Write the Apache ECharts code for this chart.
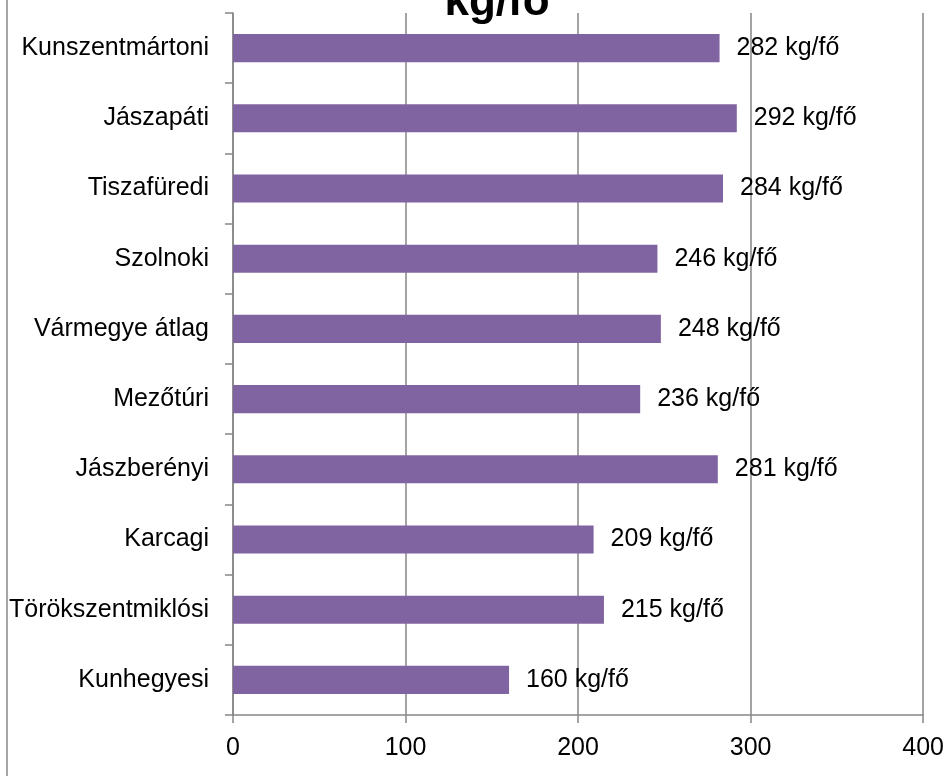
<!DOCTYPE html>
<html>
<head>
<meta charset="utf-8">
<script src="https://cdn.jsdelivr.net/npm/echarts@6/dist/echarts.min.js"></script>
<style>html,body{margin:0;padding:0;background:#fff;}#c{width:947px;height:776px;}</style>
</head>
<body>
<div id="c"></div>
<script>
const categories = ["Kunszentmártoni", "Jászapáti", "Tiszafüredi", "Szolnoki", "Vármegye átlag", "Mezőtúri", "Jászberényi", "Karcagi", "Törökszentmiklósi", "Kunhegyesi"];
const values = [282, 292, 284, 246, 248, 236, 281, 209, 215, 160];
const valueTicks = [0, 100, 200, 300, 400];
const titleText = "kg/fő";
const unit = " kg/fő";

const FONT = "'Liberation Sans', Arial, sans-serif";
const chart = echarts.init(document.getElementById('c'), null, {renderer: 'canvas'});
chart.setOption({
  animation: false,
  backgroundColor: '#fff',
  graphic: [
    {type: 'line', shape: {x1: 7, y1: 0, x2: 7, y2: 776}, style: {stroke: '#888', lineWidth: 1.5}},
    {type: 'text', x: 497, y: 3, style: {text: titleText, font: "bold 44px 'Liberation Sans', Arial, sans-serif", fill: '#000', textAlign: 'center', textVerticalAlign: 'middle'}}
  ],
  grid: {left: 233, right: 22, top: 13, bottom: 61, containLabel: false},
  xAxis: {
    type: 'value', min: valueTicks[0], max: valueTicks[valueTicks.length - 1], interval: 100,
    axisLine: {show: true, lineStyle: {color: '#868686', width: 1.5}},
    axisTick: {show: true, length: 8, lineStyle: {color: '#868686', width: 1.5}},
    splitLine: {show: true, lineStyle: {color: '#868686', width: 1.5}},
    axisLabel: {color: '#000', fontSize: 25, fontFamily: FONT, margin: 21}
  },
  yAxis: {
    type: 'category', data: categories, inverse: true,
    axisLine: {show: true, lineStyle: {color: '#868686', width: 1.5}},
    axisTick: {show: true, length: 8, alignWithLabel: false, lineStyle: {color: '#868686', width: 1.5}},
    axisLabel: {color: '#000', fontSize: 25, fontFamily: FONT, margin: 24}
  },
  series: [{
    type: 'bar', data: values, barWidth: '40%',
    itemStyle: {color: '#8064A2'},
    label: {show: true, position: 'right', distance: 17, color: '#000', fontSize: 25, fontFamily: FONT,
      formatter: p => p.value + unit}
  }]
});
</script>
</body>
</html>
